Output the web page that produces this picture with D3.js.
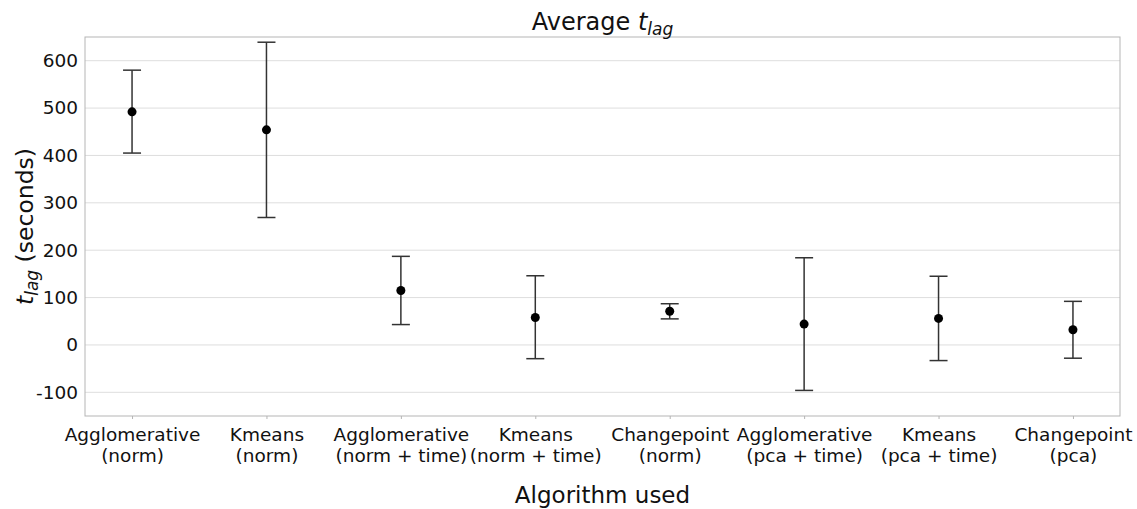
<!DOCTYPE html>
<html>
<head>
<meta charset="utf-8">
<script src="https://cdn.jsdelivr.net/npm/d3@7"></script>
<style>
  body { margin: 0; background: #fff; }
  text { font-family: "DejaVu Sans", sans-serif; fill: #111; }
</style>
</head>
<body>
<div id="chart"></div>
<script>
// algorithms, two-line tick labels
const categories = [
  ["Agglomerative", "(norm)"],
  ["Kmeans", "(norm)"],
  ["Agglomerative", "(norm + time)"],
  ["Kmeans", "(norm + time)"],
  ["Changepoint", "(norm)"],
  ["Agglomerative", "(pca + time)"],
  ["Kmeans", "(pca + time)"],
  ["Changepoint", "(pca)"]
];
const means = [492, 454, 115, 58, 71, 44, 56, 32];
const upper = [580, 639, 187, 146, 87, 184, 145, 92];
const lower = [405, 269, 43, -29, 55, -96, -33, -28];
const yTicks = [-100, 0, 100, 200, 300, 400, 500, 600];

const width = 1137, height = 509;
const margin = { top: 37, right: 17, bottom: 93, left: 85 };

const svg = d3.select("#chart").append("svg")
  .attr("width", width)
  .attr("height", height);

const x = d3.scalePoint()
  .domain(d3.range(categories.length))
  .range([margin.left, width - margin.right])
  .padding(0.35);

const y = d3.scaleLinear()
  .domain([-150, 650])
  .range([height - margin.bottom, margin.top]);

// grid
svg.append("g")
  .selectAll("line")
  .data(yTicks)
  .join("line")
  .attr("x1", margin.left).attr("x2", width - margin.right)
  .attr("y1", d => y(d)).attr("y2", d => y(d))
  .attr("stroke", "#dedede")
  .attr("stroke-width", 1);

// frame
svg.append("rect")
  .attr("x", margin.left).attr("y", margin.top)
  .attr("width", width - margin.left - margin.right)
  .attr("height", height - margin.top - margin.bottom)
  .attr("fill", "none")
  .attr("stroke", "#b5b5b5")
  .attr("stroke-width", 1);

// y axis labels
const yAxis = d3.axisLeft(y).tickValues(yTicks).tickSize(0).tickPadding(7)
  .tickFormat(d => String(d));
svg.append("g")
  .attr("transform", `translate(${margin.left},0)`)
  .call(yAxis)
  .call(g => g.select(".domain").remove())
  .selectAll("text")
  .style("font-size", "18.5px")
  .attr("fill", "#111");

// x axis ticks + labels
const xAxis = d3.axisBottom(x).tickSize(3).tickFormat("");
const xg = svg.append("g")
  .attr("transform", `translate(0,${height - margin.bottom})`)
  .call(xAxis);
xg.select(".domain").remove();
xg.selectAll("line").attr("stroke", "#b5b5b5");
xg.selectAll(".tick").each(function(d) {
  const t = d3.select(this).append("text")
    .attr("text-anchor", "middle")
    .style("font-size", "18.5px")
    .attr("fill", "#111");
  t.append("tspan").attr("x", 0).attr("y", 25).text(categories[d][0]);
  t.append("tspan").attr("x", 0).attr("y", 46).text(categories[d][1]);
});

// error bars
const capW = 9;
const bars = svg.append("g").selectAll("g")
  .data(means.map((m, i) => ({ i, m, lo: lower[i], hi: upper[i] })))
  .join("g")
  .attr("stroke", "#333")
  .attr("stroke-width", 1.5);
bars.append("line")
  .attr("x1", d => x(d.i)).attr("x2", d => x(d.i))
  .attr("y1", d => y(d.lo)).attr("y2", d => y(d.hi));
bars.append("line")
  .attr("x1", d => x(d.i) - capW).attr("x2", d => x(d.i) + capW)
  .attr("y1", d => y(d.hi)).attr("y2", d => y(d.hi));
bars.append("line")
  .attr("x1", d => x(d.i) - capW).attr("x2", d => x(d.i) + capW)
  .attr("y1", d => y(d.lo)).attr("y2", d => y(d.lo));

svg.append("g").selectAll("circle")
  .data(means)
  .join("circle")
  .attr("cx", (d, i) => x(i))
  .attr("cy", d => y(d))
  .attr("r", 4.5)
  .attr("fill", "#000");

// title
const title = svg.append("text")
  .attr("x", (margin.left + width - margin.right) / 2)
  .attr("y", 30)
  .attr("text-anchor", "middle")
  .style("font-size", "24px");
title.append("tspan").text("Average ");
title.append("tspan").style("font-style", "italic").text("t");
title.append("tspan").style("font-style", "italic").style("font-size", "17px")
  .attr("dy", 5).text("lag");

// x label
svg.append("text")
  .attr("x", (margin.left + width - margin.right) / 2)
  .attr("y", 503)
  .attr("text-anchor", "middle")
  .style("font-size", "23px")
  .text("Algorithm used");

// y label
const yl = svg.append("text")
  .attr("transform", `translate(33,${(margin.top + height - margin.bottom) / 2}) rotate(-90)`)
  .attr("text-anchor", "middle")
  .style("font-size", "23.5px");
yl.append("tspan").style("font-style", "italic").text("t");
yl.append("tspan").style("font-style", "italic").style("font-size", "17px")
  .attr("dy", 5).text("lag");
yl.append("tspan").attr("dy", -5).text(" (seconds)");
</script>
</body>
</html>
